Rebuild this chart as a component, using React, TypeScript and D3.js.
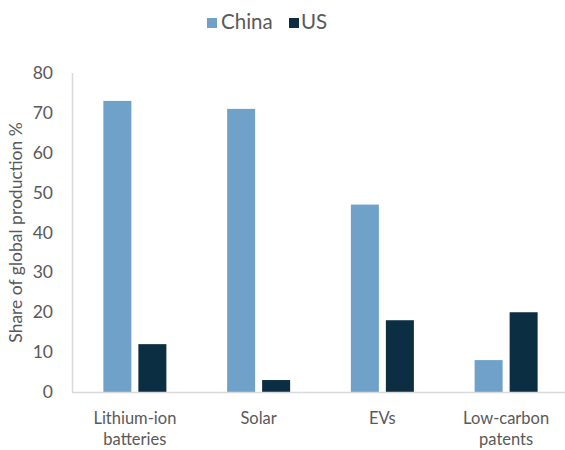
import React from "react";
import * as d3 from "d3";

const categories: string[][] = [["Lithium-ion", "batteries"], ["Solar"], ["EVs"], ["Low-carbon", "patents"]];
const seriesNames = ["China", "US"];
const chinaValues = [73, 71, 47, 8];
const usValues = [12, 3, 18, 20];
const yTicks = [0, 10, 20, 30, 40, 50, 60, 70, 80];
const colors = ["#6FA1C9", "#0B2E42"];

const W = 565, H = 450;
const left = 73, right = 568, top = 73, bottom = 392;
const font = "Lato, 'Noto Sans', sans-serif";
const textColor = "#595959";

export default function App() {
  const x = d3.scaleBand<number>().domain(d3.range(categories.length)).range([left, right]).padding(0);
  const y = d3.scaleLinear().domain([0, 80]).range([bottom, top]);
  const barW = 28, gap = 7;
  const series = [chinaValues, usValues];
  return (
    <svg width={W} height={H} style={{ position: "absolute", left: 0, top: 0, background: "#fff" }}>
      {/* legend */}
      <g fontFamily={font} fontSize={20.5} fill={textColor}>
        <rect x={207} y={18} width={10} height={10} fill={colors[0]} />
        <text x={221} y={28.5}>{seriesNames[0]}</text>
        <rect x={289} y={18} width={10} height={10} fill={colors[1]} />
        <text x={301} y={28.5}>{seriesNames[1]}</text>
      </g>
      {/* axes */}
      <line x1={left - 0.5} x2={left - 0.5} y1={top} y2={bottom} stroke="#D9D9D9" strokeWidth={1.5} />
      {/* bars */}
      {series.map((vals, si) =>
        vals.map((v, i) => {
          const cx = x(i)! + x.bandwidth() / 2;
          const bx = si === 0 ? cx - gap / 2 - barW : cx + gap / 2;
          return <rect key={`${si}-${i}`} x={bx} y={y(v)} width={barW} height={y(0) - y(v)} fill={colors[si]} />;
        })
      )}
      <line x1={left - 1} x2={W} y1={bottom + 0.5} y2={bottom + 0.5} stroke="#D9D9D9" strokeWidth={1.5} />
      {/* y ticks */}
      <g fontFamily={font} fontSize={17.5} fill={textColor} textAnchor="end">
        {yTicks.map((t) => (
          <text key={t} x={53} y={y(t) + 6}>{t}</text>
        ))}
      </g>
      <text
        transform={`translate(22,${(top + bottom) / 2}) rotate(-90)`}
        textAnchor="middle"
        fontFamily={font}
        fontSize={17.5}
        fill={textColor}
      >
        Share of global production %
      </text>
      {/* category labels */}
      <g fontFamily={font} fontSize={16.5} fill={textColor} textAnchor="middle">
        {categories.map((lines, i) => (
          <text key={i} x={x(i)! + x.bandwidth() / 2} y={423.5}>
            {lines.map((l, j) => (
              <tspan key={j} x={x(i)! + x.bandwidth() / 2} dy={j === 0 ? 0 : 21.5}>{l}</tspan>
            ))}
          </text>
        ))}
      </g>
    </svg>
  );
}
